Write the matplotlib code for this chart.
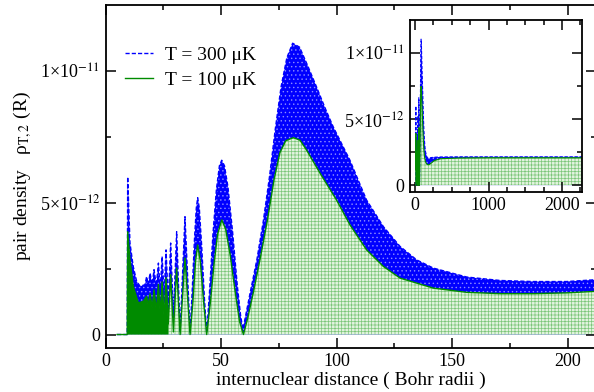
import numpy as np
import matplotlib
matplotlib.use("Agg")
import matplotlib.pyplot as plt
from matplotlib.lines import Line2D

plt.rcParams['font.family'] = ['Liberation Serif', 'DejaVu Serif']
plt.rcParams['mathtext.fontset'] = 'stix'
plt.rcParams['hatch.linewidth'] = 0.5

# upper envelope of the pair density, units of 1e-12
r_300 = [5, 9.4, 9.6, 10.6, 12, 13.5, 15, 17.1, 17.8, 18.5, 19.3, 20.2, 21, 22,
         22.9, 23.7, 24.5, 25.4, 26.2, 27.2, 28.2, 29.4, 30.8, 32.3, 34.4, 36.6,
         37.5, 38.5, 39.3, 39.9, 40.6, 41.6, 42.8, 43.8, 45, 46.5, 48, 49.3, 50.3,
         51.5, 53, 55, 57, 58.5, 59.5, 62.6, 65.5, 68.3, 71, 73.5, 76, 78.5, 81,
         84, 87.5, 91.4, 95, 98.6, 105.8, 113, 120.3, 127.5, 134.7, 141.9, 156.4,
         170.8, 185.2, 199.6, 212.5]
rho_300 = [0, 0, 5.98, 3.47, 2.58, 2.01, 1.83, 1.89, 2.2, 1.9, 2.33, 1.9, 2.46, 1.85,
           2.71, 1.7, 2.96, 1.5, 3.21, 1.2, 3.47, 0.7, 3.9, 0.1, 4.47, 0.1,
           1.6, 3.6, 4.8, 5.19, 4.8, 3.4, 1.4, 0.07, 1.6, 3.8, 5.5, 6.4, 6.61,
           6.4, 5.6, 3.9, 1.9, 0.7, 0.2, 1.58, 2.83, 4.3, 6.0, 7.8, 9.4, 10.5, 11.05,
           10.9, 10.2, 9.38, 8.6, 7.87, 6.61, 5.1, 4.09, 3.34, 2.83, 2.52, 2.18,
           2.05, 2.01, 2.01, 2.08]

r_100 = [5, 9.4, 9.6, 10.5, 12, 14.2, 16.4, 17.8, 18.5, 19.3, 20.2, 21, 22, 22.9,
         23.7, 24.5, 25.4, 26.2, 27.2, 28.2, 29.4, 30.8, 32.3, 34.4, 36.6, 37.8,
         39, 39.9, 41, 42.5, 43.8, 45.5, 47, 48.5, 50.3, 52, 54, 56, 58, 59.7,
         61.5, 64, 67, 70, 73, 75.5, 78, 81.3, 84.2, 87, 93, 100, 105.8, 113,
         120.3, 127.5, 141.9, 156.4, 170.8, 185.2, 199.6, 212.5]
rho_100 = [0, 0, 3.9, 2.9, 1.83, 1.2, 1.26, 1.45, 1.1, 1.55, 1.0, 1.7, 0.9, 1.9,
           0.8, 2.0, 0.6, 2.15, 0.4, 2.27, 0.1, 2.52, 0, 2.9, 0, 1.2,
           2.8, 3.4, 2.8, 1.2, 0, 1.3, 2.7, 3.8, 4.35, 4.0, 3.0, 1.7, 0.5, 0,
           0.6, 1.6, 2.9, 4.3, 5.9, 6.9, 7.35, 7.47, 7.37, 7.0, 6.1, 5.1, 4.16, 3.21,
           2.58, 2.14, 1.76, 1.6, 1.55, 1.55, 1.58, 1.64]

# long range part shown only in the inset
r_tail = [260, 350, 600, 1000, 1500, 2300]
rho_300_tail = [2.11, 2.13, 2.14, 2.14, 2.14, 2.14]
rho_100_tail = [1.85, 2.0, 2.05, 2.07, 2.07, 2.07]


def draw(ax, r3, y3, r1, y1, lw):
    r3 = np.array(r3)
    y3 = np.array(y3)
    r1 = np.array(r1)
    y1 = np.array(y1)
    ax.fill_between(r3, 0, y3, facecolor='blue', edgecolor='#8c8cff',
                    hatch='....', linewidth=0)
    ax.plot(r3, y3, color='blue', ls='--', lw=lw, dashes=(3, 1.5))
    ax.fill_between(r1, 0, y1, facecolor='#e2f3de', edgecolor='#7cc679',
                    hatch='+++++', linewidth=0)
    dark = r1 <= 27.2
    ax.fill_between(r1[dark], 0, y1[dark], facecolor='#008b00', linewidth=0)
    ax.plot(r1, y1, color='#008b00', lw=lw)


def style(ax):
    for s in ax.spines.values():
        s.set_linewidth(1.3)
    ax.tick_params(which='both', direction='in', top=True, right=True,
                   labelsize=13, width=1.1, pad=4)
    ax.tick_params(which='major', length=7)
    ax.tick_params(which='minor', length=3.6)
    ax.set_yticks([0, 5, 10])
    ax.set_yticklabels(['0', '5×10$^{-12}$', '1×10$^{-11}$'])
    ax.set_yticks([2.5, 7.5], minor=True)
    ax.set_ylim(-0.5, 12.5)


fig = plt.figure(figsize=(5.94, 3.92), dpi=100)

ax = fig.add_axes([105.5 / 594, 1 - 347.7 / 392, 490.5 / 594, 342.7 / 392])
draw(ax, r_300, rho_300, r_100, rho_100, 1.0)
style(ax)
ax.set_xlim(0, 212.3)
ax.set_xticks([0, 50, 100, 150, 200])
ax.set_xticks([25, 75, 125, 175], minor=True)
ax.set_xlabel('internuclear distance ( Bohr radii )', fontsize=14, labelpad=1)
ax.set_ylabel('pair density   ρ$_{\\mathrm{T,2}}$ (R)', fontsize=14, labelpad=4)

handles = [Line2D([], [], color='blue', ls='--', lw=1.0, dashes=(3, 1.5)),
           Line2D([], [], color='#008b00', lw=1.0)]
ax.legend(handles, ['T = 300 μK', 'T = 100 μK'], loc='upper left',
          bbox_to_anchor=(125 / 594, 1 - 46 / 392), bbox_transform=fig.transFigure,
          frameon=False, fontsize=14, handlelength=1.45, handletextpad=0.6,
          labelspacing=0.4, borderpad=0, borderaxespad=0)

ins = fig.add_axes([410 / 594, 1 - 191.7 / 392, 171.7 / 594, 171.7 / 392])
draw(ins, r_300 + r_tail, rho_300 + rho_300_tail,
     r_100 + r_tail, rho_100 + rho_100_tail, 0.8)
style(ins)
ins.set_xlim(-70, 2270)
ins.set_xticks([0, 1000, 2000])
ins.set_xticks([250, 500, 750, 1250, 1500, 1750, 2250], minor=True)

fig.savefig('out.png', dpi=100)
